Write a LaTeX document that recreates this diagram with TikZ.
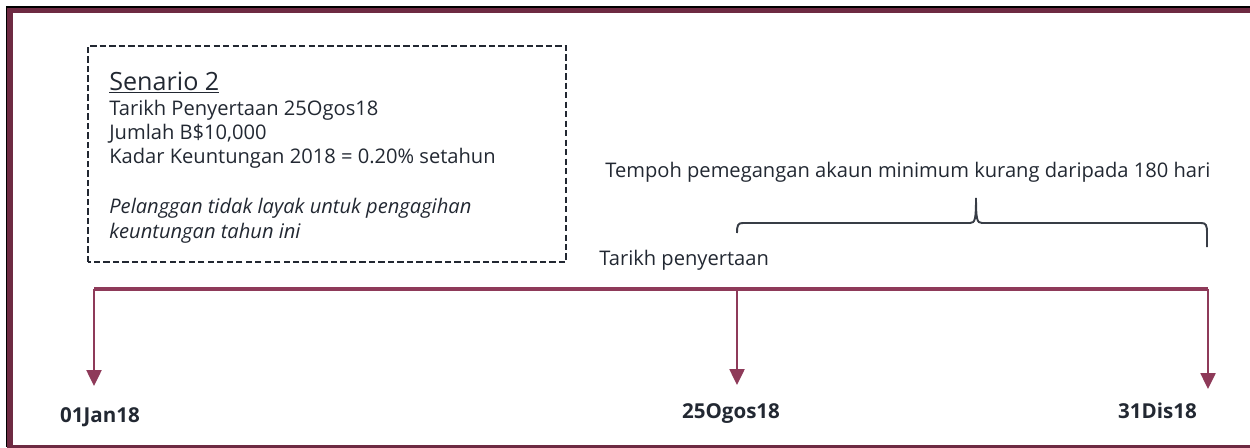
\documentclass[tikz,border=0pt]{standalone}
\usepackage{xcolor}
\usepackage{fontspec}
\setmainfont{Open Sans}
\usetikzlibrary{arrows.meta}
\definecolor{plum}{RGB}{142,58,89}
\definecolor{frameplum}{RGB}{110,42,66}
\definecolor{ink}{RGB}{34,40,50}
\tikzstyle{line}=[ink, anchor=base west, inner sep=0pt, font=\fontsize{11.45}{13}\selectfont]
\tikzstyle{date}=[ink, anchor=base, inner sep=0pt, font=\fontsize{11.7}{13}\selectfont\bfseries]
\tikzstyle{tick}=[plum, line width=1.2pt, -{Triangle[width=8.5pt,length=9pt]}]

\begin{document}
\begin{tikzpicture}
      \useasboundingbox (0,0) rectangle (25,8.94);
      % frame
      \draw [black, line width=0.04cm] (0.14,0) -- (0.14,8.80) -- (25.2,8.80);
      \draw [frameplum, line width=0.1cm] (25.2,0) -- (0.20,0) -- (0.20,8.72) -- (25.2,8.72);
      % scenario box
      \draw [ink, line width=1.3pt, dash pattern=on 3.6pt off 1.8pt] (1.76,3.70) rectangle (11.32,8.02);
      \node [line, font=\fontsize{14.3}{16}\selectfont] (title) at (2.18,7.14) {\underline{Senario 2}};
      \node [line] (tarikh) at (2.18,6.64) {Tarikh Penyertaan 25Ogos18};
      \node [line] (jumlah) at (2.18,6.16) {Jumlah B\$10,000};
      \node [line] (kadar) at (2.18,5.68) {Kadar Keuntungan 2018 = 0.20\% setahun};
      \node [line] (layak) at (2.18,4.68) {\itshape Pelanggan tidak layak untuk pengagihan};
      \node [line] (tahun) at (2.18,4.18) {\itshape keuntungan tahun ini};
      % brace
      \node [line] (tempoh) at (12.10,5.40) {Tempoh pemegangan akaun minimum kurang daripada 180 hari};
      \draw [ink!90, line width=1.1pt] (14.74,4.28) .. controls (14.74,4.44) and (14.76,4.48) .. (14.86,4.48)
            -- (19.40,4.48) .. controls (19.50,4.48) and (19.52,4.55) .. (19.52,4.98)
            .. controls (19.52,4.55) and (19.54,4.48) .. (19.64,4.48)
            -- (24.02,4.48) .. controls (24.12,4.48) and (24.14,4.44) .. (24.14,4.28) -- (24.14,4.00);
      \node [line] (penyertaan) at (11.98,3.64) {Tarikh penyertaan};
      % timeline
      \coordinate (jan) at (1.88,3.16);
      \coordinate (ogos) at (14.74,3.16);
      \coordinate (dis) at (24.16,3.16);
      \coordinate (janend) at (1.88,1.22);
      \coordinate (ogosend) at (14.74,1.24);
      \coordinate (disend) at (24.16,1.16);
      \draw [plum, line width=2.3pt] (jan) -- (dis);
      \draw [tick] (jan) -- (janend);
      \draw [tick] (ogos) -- (ogosend);
      \draw [tick] (dis) -- (disend);
      \node [date] (janlbl) at (2.00,0.50) {01Jan18};
      \node [date] (ogoslbl) at (14.62,0.58) {25Ogos18};
      \node [date] (dislbl) at (23.15,0.58) {31Dis18};
    \end{tikzpicture}
\end{document}
